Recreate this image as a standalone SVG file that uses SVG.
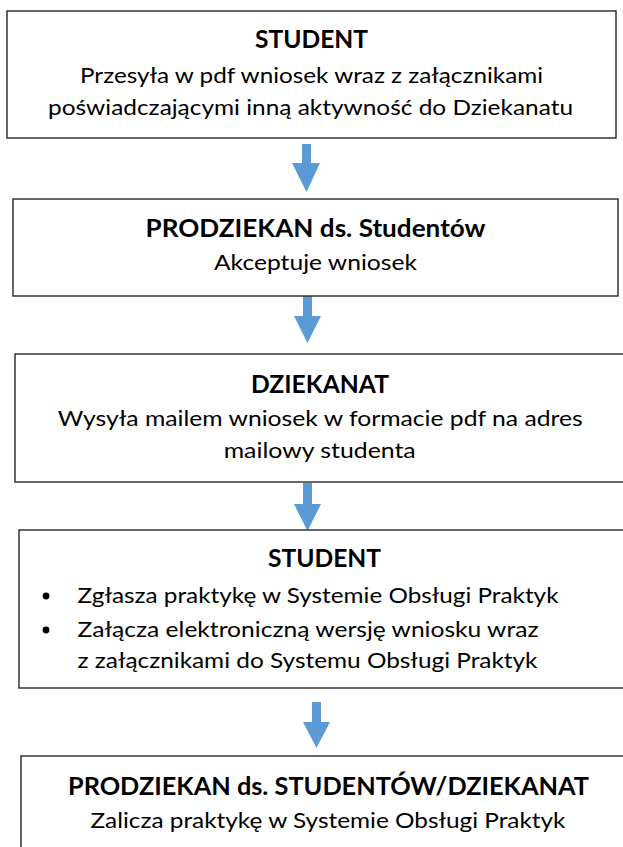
<svg xmlns="http://www.w3.org/2000/svg" width="623" height="847" viewBox="0 0 623 847">
<style>
.box{fill:#fff;stroke:#262626;stroke-width:1.4}
.t{font-family:Lato,"Open Sans","Liberation Sans",sans-serif;font-weight:bold;font-size:24px;fill:#000;text-anchor:middle}
.b{font-family:Lato,"Open Sans","Liberation Sans",sans-serif;font-size:20.5px;fill:#000;text-anchor:middle}
.bl{font-family:Lato,"Open Sans","Liberation Sans",sans-serif;font-size:20.5px;fill:#000}
.arr{fill:#5B9BD5}
</style>
<rect width="623" height="847" fill="#fff"/>
<g id="connectors">
<path class="arr" d="M302,144 H311 V163 H320 L306.5,192 L292,163 H302 Z"/>
<path class="arr" d="M303,296 H312 V316 H321 L307.5,343 L294,316 H303 Z"/>
<path class="arr" d="M303,483 H312 V504 H321 L307.5,531 L294,504 H303 Z"/>
<path class="arr" d="M312,702 H321 V722 H330 L316.5,748 L303,722 H312 Z"/>
</g>
<g id="node1">
<rect class="box" x="7" y="11" width="609" height="127"/>
<text class="t" x="311.5" y="48" textLength="113" lengthAdjust="spacingAndGlyphs">STUDENT</text>
<text class="b" x="311.5" y="83" textLength="463" lengthAdjust="spacingAndGlyphs">Przesyła w pdf wniosek wraz z załącznikami</text>
<text class="b" x="310.5" y="115" textLength="525" lengthAdjust="spacingAndGlyphs">poświadczającymi inną aktywność do Dziekanatu</text>
</g>
<g id="node2">
<rect class="box" x="13" y="199" width="605" height="97"/>
<text class="t" x="315.5" y="237" textLength="340" lengthAdjust="spacingAndGlyphs">PRODZIEKAN ds. Studentów</text>
<text class="b" x="315.5" y="270" textLength="203" lengthAdjust="spacingAndGlyphs">Akceptuje wniosek</text>
</g>
<g id="node3">
<rect class="box" x="15" y="354" width="612" height="128"/>
<text class="t" x="320" y="393" textLength="138" lengthAdjust="spacingAndGlyphs">DZIEKANAT</text>
<text class="b" x="320.3" y="426" textLength="525" lengthAdjust="spacingAndGlyphs">Wysyła mailem wniosek w formacie pdf na adres</text>
<text class="b" x="319.7" y="458" textLength="192" lengthAdjust="spacingAndGlyphs">mailowy studenta</text>
</g>
<g id="node4">
<rect class="box" x="19" y="530" width="614" height="158"/>
<text class="t" x="324.5" y="567" textLength="113" lengthAdjust="spacingAndGlyphs">STUDENT</text>
<circle cx="46" cy="596" r="3.4" fill="#000"/>
<circle cx="46" cy="630" r="3.4" fill="#000"/>
<text class="bl" x="77.5" y="603" textLength="481" lengthAdjust="spacingAndGlyphs">Zgłasza praktykę w Systemie Obsługi Praktyk</text>
<text class="bl" x="77.5" y="637" textLength="461" lengthAdjust="spacingAndGlyphs">Załącza elektroniczną wersję wniosku wraz</text>
<text class="bl" x="77.5" y="668" textLength="460" lengthAdjust="spacingAndGlyphs">z załącznikami do Systemu Obsługi Praktyk</text>
</g>
<g id="node5">
<rect class="box" x="21" y="756" width="614" height="110"/>
<text class="t" x="328.5" y="795" textLength="521" lengthAdjust="spacingAndGlyphs">PRODZIEKAN ds. STUDENTÓW/DZIEKANAT</text>
<text class="b" x="328" y="828" textLength="475" lengthAdjust="spacingAndGlyphs">Zalicza praktykę w Systemie Obsługi Praktyk</text>
</g>
</svg>
